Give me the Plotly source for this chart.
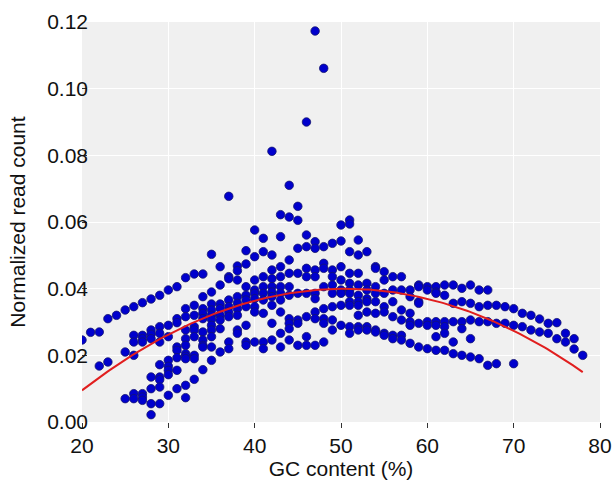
import numpy as np
import plotly.graph_objects as go

# GC content (%) columns and normalized read counts
gc_cols = list(range(20, 79))
counts = {
    20: [0.0246],
    21: [0.0269],
    22: [0.0270, 0.0168],
    23: [0.0310, 0.0180],
    24: [0.0320],
    25: [0.0336, 0.0210, 0.0070],
    26: [0.0346, 0.0260, 0.0240, 0.0200, 0.0085, 0.0070],
    27: [0.0358, 0.0260, 0.0250, 0.0240, 0.0085, 0.0075, 0.0065],
    28: [0.0369, 0.0276, 0.0263, 0.0250, 0.0135, 0.0100, 0.0055, 0.0022],
    29: [0.0380, 0.0286, 0.0266, 0.0240, 0.0172, 0.0135, 0.0127, 0.0105, 0.0055],
    30: [0.0396, 0.0290, 0.0256, 0.0185, 0.0167, 0.0155, 0.0142, 0.0080],
    31: [0.0406, 0.0310, 0.0298, 0.0225, 0.0215, 0.0193, 0.0155, 0.0100],
    32: [0.0433, 0.0340, 0.0316, 0.0276, 0.0250, 0.0230, 0.0205, 0.0197, 0.0190, 0.0110, 0.0073],
    33: [0.0444, 0.0350, 0.0320, 0.0286, 0.0276, 0.0256, 0.0200, 0.0190, 0.0128],
    34: [0.0444, 0.0376, 0.0340, 0.0326, 0.0310, 0.0270, 0.0246, 0.0230, 0.0225, 0.0157],
    35: [0.0503, 0.0390, 0.0354, 0.0336, 0.0320, 0.0308, 0.0290, 0.0276, 0.0256, 0.0225, 0.0185],
    36: [0.0466, 0.0411, 0.0354, 0.0340, 0.0320, 0.0306, 0.0280, 0.0210],
    37: [0.0677, 0.0436, 0.0430, 0.0366, 0.0346, 0.0330, 0.0316, 0.0240, 0.0220],
    38: [0.0468, 0.0454, 0.0426, 0.0376, 0.0356, 0.0340, 0.0320, 0.0276, 0.0266],
    39: [0.0514, 0.0474, 0.0406, 0.0380, 0.0366, 0.0346, 0.0290, 0.0240, 0.0230],
    40: [0.0576, 0.0496, 0.0426, 0.0396, 0.0386, 0.0370, 0.0346, 0.0330, 0.0240],
    41: [0.0551, 0.0511, 0.0436, 0.0406, 0.0386, 0.0366, 0.0326, 0.0240, 0.0220],
    42: [0.0812, 0.0501, 0.0456, 0.0430, 0.0406, 0.0390, 0.0376, 0.0350, 0.0296, 0.0246],
    43: [0.0622, 0.0556, 0.0466, 0.0436, 0.0406, 0.0386, 0.0366, 0.0330, 0.0266, 0.0225],
    44: [0.0710, 0.0615, 0.0486, 0.0446, 0.0406, 0.0380, 0.0310, 0.0296, 0.0280, 0.0246],
    45: [0.0647, 0.0605, 0.0521, 0.0446, 0.0386, 0.0306, 0.0296, 0.0230],
    46: [0.0900, 0.0561, 0.0526, 0.0461, 0.0436, 0.0386, 0.0316, 0.0256, 0.0230],
    47: [0.1173, 0.0541, 0.0521, 0.0456, 0.0436, 0.0386, 0.0370, 0.0330, 0.0310, 0.0230],
    48: [0.1061, 0.0526, 0.0476, 0.0461, 0.0406, 0.0340, 0.0310, 0.0296, 0.0240],
    49: [0.0536, 0.0456, 0.0436, 0.0411, 0.0386, 0.0346, 0.0306, 0.0276],
    50: [0.0591, 0.0543, 0.0466, 0.0426, 0.0396, 0.0386, 0.0350, 0.0290],
    51: [0.0606, 0.0594, 0.0511, 0.0446, 0.0416, 0.0396, 0.0386, 0.0361, 0.0350, 0.0286, 0.0266],
    52: [0.0546, 0.0501, 0.0446, 0.0411, 0.0380, 0.0361, 0.0350, 0.0320, 0.0286, 0.0276],
    53: [0.0511, 0.0416, 0.0396, 0.0370, 0.0361, 0.0330, 0.0286, 0.0276],
    54: [0.0466, 0.0461, 0.0406, 0.0386, 0.0361, 0.0326, 0.0276, 0.0270],
    55: [0.0451, 0.0426, 0.0386, 0.0346, 0.0330, 0.0266, 0.0260],
    56: [0.0436, 0.0396, 0.0361, 0.0316, 0.0260, 0.0250],
    57: [0.0436, 0.0396, 0.0336, 0.0306, 0.0260, 0.0246],
    58: [0.0396, 0.0376, 0.0326, 0.0301, 0.0290, 0.0236],
    59: [0.0411, 0.0406, 0.0361, 0.0356, 0.0296, 0.0225],
    60: [0.0406, 0.0396, 0.0301, 0.0290, 0.0220],
    61: [0.0406, 0.0390, 0.0386, 0.0301, 0.0290, 0.0256, 0.0215],
    62: [0.0411, 0.0380, 0.0301, 0.0286, 0.0266, 0.0215],
    63: [0.0411, 0.0356, 0.0301, 0.0240, 0.0205],
    64: [0.0401, 0.0361, 0.0301, 0.0280, 0.0200],
    65: [0.0411, 0.0356, 0.0306, 0.0250, 0.0195],
    66: [0.0396, 0.0346, 0.0301, 0.0190],
    67: [0.0396, 0.0350, 0.0301, 0.0170],
    68: [0.0350, 0.0296, 0.0175],
    69: [0.0346, 0.0296],
    70: [0.0340, 0.0290, 0.0175],
    71: [0.0326, 0.0286],
    72: [0.0320, 0.0276],
    73: [0.0309, 0.0270],
    74: [0.0296, 0.0266],
    75: [0.0298, 0.0250],
    76: [0.0266, 0.0240],
    77: [0.0250, 0.0219],
    78: [0.0200],
}

x_ticks = [20, 30, 40, 50, 60, 70, 80]
y_ticks = [0.00, 0.02, 0.04, 0.06, 0.08, 0.10, 0.12]
y_tick_labels = ["0.00", "0.02", "0.04", "0.06", "0.08", "0.10", "0.12"]

gc = []
reads = []
for c in gc_cols:
    for v in counts.get(c, []):
        gc.append(c)
        reads.append(v)
gc = np.array(gc, dtype=float)
reads = np.array(reads)

# quadratic fit curve
coef = np.polyfit(gc, reads, 2)
fx = np.linspace(20, 78, 200)
fy = np.polyval(coef, fx)

fig = go.Figure()
fig.add_trace(go.Scatter(
    x=gc, y=reads, mode="markers",
    marker=dict(size=8.5, color="rgb(0,0,205)",
                line=dict(width=0.8, color="rgb(20,20,110)")),
    showlegend=False,
))
fig.add_trace(go.Scatter(
    x=fx, y=fy, mode="lines",
    line=dict(color="rgb(225,30,30)", width=2),
    showlegend=False,
))

font = dict(family="Liberation Sans, Arial, sans-serif", size=21, color="#111")
fig.update_layout(
    width=616, height=480,
    margin=dict(l=82, r=16, t=22, b=58),
    paper_bgcolor="white",
    plot_bgcolor="rgb(240,240,240)",
    font=font,
)
fig.update_xaxes(
    range=[20, 80], tickvals=x_ticks, ticktext=[str(v) for v in x_ticks],
    showgrid=True, gridcolor="white", gridwidth=1,
    zeroline=False, showline=False, automargin=False,
    ticks="outside", ticklen=5, tickcolor="#333",
    title=dict(text="GC content (%)", font=dict(size=21)),
)
fig.update_yaxes(
    range=[0, 0.12], tickvals=y_ticks, ticktext=y_tick_labels,
    showgrid=True, gridcolor="white", gridwidth=1,
    zeroline=False, showline=False, automargin=False,
    ticks="inside", ticklen=5, tickcolor="#333", ticklabelstandoff=-7,
    title=dict(text="Normalized read count", font=dict(size=21)),
)

fig.write_html(
    "out.html",
    config={"displayModeBar": False},
    post_script="document.body.style.margin='0';document.body.style.overflow='hidden';",
)
